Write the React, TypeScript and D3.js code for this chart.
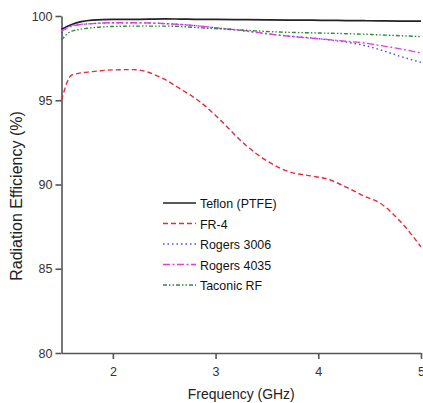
import { useEffect, useRef } from 'react'
import * as d3 from 'd3'

// Frequency samples (GHz)
const freq = [1.5, 1.6, 1.8, 2.0, 2.2, 2.5, 2.65, 2.85, 3.0, 3.3, 3.5, 3.72, 3.94, 4.1, 4.27, 4.45, 4.6, 4.8, 5.0]

// Radiation efficiency (%) per substrate
const teflon = [99.22, 99.5, 99.75, 99.8, 99.8, 99.83, 99.82, 99.8, 99.8, 99.78, 99.77, 99.76, 99.75, 99.74, 99.73, 99.72, 99.71, 99.7, 99.7]
const fr4 = [95.0, 96.5, 96.7, 96.8, 96.82, 96.25, 95.7, 94.9, 94.1, 92.3, 91.4, 90.75, 90.5, 90.3, 89.85, 89.3, 88.9, 87.8, 86.3]
const rogers3006 = [99.0, 99.45, 99.55, 99.6, 99.6, 99.55, 99.5, 99.4, 99.3, 99.1, 98.95, 98.8, 98.7, 98.58, 98.45, 98.25, 98.0, 97.6, 97.25]
const rogers4035 = [99.1, 99.4, 99.55, 99.6, 99.6, 99.55, 99.5, 99.4, 99.3, 99.12, 98.95, 98.8, 98.68, 98.6, 98.5, 98.4, 98.25, 98.05, 97.8]
const taconic = [98.6, 99.1, 99.3, 99.38, 99.4, 99.4, 99.38, 99.3, 99.25, 99.15, 99.08, 99.03, 99.0, 98.98, 98.95, 98.92, 98.88, 98.83, 98.78]

const seriesNames = ['Teflon (PTFE)', 'FR-4', 'Rogers 3006', 'Rogers 4035', 'Taconic RF']
const seriesValues = [teflon, fr4, rogers3006, rogers4035, taconic]
const seriesColors = ['#222222', '#e8283c', '#4b4bd6', '#e43ce4', '#2e8b3a']
const seriesDash = ['', '5,3', '1.5,3', '7,2.5,2,2.5', '4,2,1.5,2,1.5,2']

const xTicks = [2, 3, 4, 5]
const yTicks = [80, 85, 90, 95, 100]

export default function App() {
  const svgRef = useRef<SVGSVGElement>(null)

  useEffect(() => {
    if (!svgRef.current) return
    const svg = d3.select(svgRef.current)
    svg.selectAll('*').remove()

    const x = d3.scaleLinear().domain([1.5, 5]).range([61.5, 421])
    const y = d3.scaleLinear().domain([80, 100]).range([353, 16])
    const axisColor = '#555'

    // Axes
    const gx = svg.append('g')
      .attr('transform', `translate(0,${y(80)})`)
      .call(d3.axisBottom(x).tickValues(xTicks).tickSize(6).tickSizeOuter(0).tickFormat(d3.format('d')))
    const gy = svg.append('g')
      .attr('transform', `translate(${x(1.5)},0)`)
      .call(d3.axisLeft(y).tickValues(yTicks).tickSize(6).tickSizeOuter(0).tickPadding(3))
    ;[gx, gy].forEach(g => {
      g.selectAll('path, line').attr('stroke', axisColor).attr('stroke-width', 1.6)
      g.selectAll('text')
        .attr('fill', '#333')
        .style('font-family', 'Liberation Sans, Arial, sans-serif')
        .style('font-size', '12.5px')
    })
    gx.selectAll('text').attr('dy', '1.15em')

    // Lines
    const line = d3.line<number>()
      .x((_, i) => x(freq[i]))
      .y(d => y(d))
      .curve(d3.curveMonotoneX)

    seriesValues.forEach((vals, i) => {
      svg.append('path')
        .datum(vals)
        .attr('d', line)
        .attr('fill', 'none')
        .attr('stroke', seriesColors[i])
        .attr('stroke-width', i === 0 ? 1.7 : 1.4)
        .attr('stroke-dasharray', seriesDash[i])
    })

    // Legend
    const legend = svg.append('g').attr('transform', 'translate(163,203)')
    seriesNames.forEach((name, i) => {
      const row = legend.append('g').attr('transform', `translate(0,${i * 20.5})`)
      row.append('line')
        .attr('x1', 0).attr('x2', 33).attr('y1', 0).attr('y2', 0)
        .attr('stroke', seriesColors[i])
        .attr('stroke-width', i === 0 ? 1.6 : 1.4)
        .attr('stroke-dasharray', seriesDash[i])
      row.append('text')
        .attr('transform', 'translate(37,5) scale(0.92,1)')
        .style('font-family', 'Liberation Sans, Arial, sans-serif')
        .style('font-size', '13.5px')
        .attr('fill', '#111')
        .text(name)
    })

    // Axis titles
    svg.append('text')
      .attr('transform', `translate(${(x(1.5) + x(5)) / 2},399) scale(0.9,1)`)
      .attr('text-anchor', 'middle')
      .style('font-family', 'Liberation Sans, Arial, sans-serif')
      .style('font-size', '15.5px')
      .attr('fill', '#222')
      .text('Frequency (GHz)')

    svg.append('text')
      .attr('transform', `translate(22,196) rotate(-90)`)
      .attr('text-anchor', 'middle')
      .style('font-family', 'Liberation Sans, Arial, sans-serif')
      .style('font-size', '16px')
      .attr('fill', '#222')
      .text('Radiation Efficiency (%)')
  }, [])

  return (
    <svg
      ref={svgRef}
      width={423}
      height={403}
      style={{ position: 'absolute', left: 0, top: 0, background: '#fff' }}
    />
  )
}
